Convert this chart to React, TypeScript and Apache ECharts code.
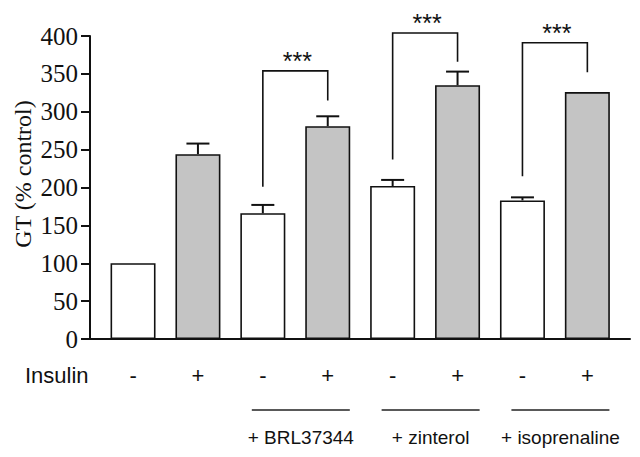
import React, { useEffect, useRef } from "react";
import * as echarts from "echarts";

// ---- data ----
const barPositions = [1, 2, 3, 4, 5, 6, 7, 8];
const insulinSigns = ["-", "+", "-", "+", "-", "+", "-", "+"];
const gtValues = [100, 244, 166, 281, 202, 335, 183, 326];
const semValues = [0, 14, 11, 13, 8, 18, 4, 0];
const treatmentLabels = ["+ BRL37344", "+ zinterol", "+ isoprenaline"];
const treatmentFrom = [3, 5, 7];
const treatmentTo = [4, 6, 8];
const bracketTops = [354, 404, 391];
const bracketLeftEnds = [201, 237, 215];
const bracketRightEnds = [315, 366, 352];
const bracketLabels = ["***", "***", "***"];

const INK = "#111";
const GREY = "#c4c4c4";

export default function App() {
  const ref = useRef<HTMLDivElement>(null);

  useEffect(() => {
    if (!ref.current) return;
    const chart = echarts.init(ref.current, null, { renderer: "svg" });

    const barData = barPositions.map((x, i) => ({
      value: [x, gtValues[i]],
      itemStyle: {
        color: insulinSigns[i] === "+" ? GREY : "#ffffff",
        borderColor: INK,
        borderWidth: 1.6,
      },
    }));

    const errData = barPositions.map((x, i) => [x, gtValues[i], semValues[i]]);
    const signData = barPositions.map((x, i) => [x, i]);
    const treatData = treatmentFrom.map((f, i) => [f, treatmentTo[i], i]);
    const bracketData = treatmentFrom.map((f, i) => [
      f,
      treatmentTo[i],
      bracketTops[i],
      bracketLeftEnds[i],
      bracketRightEnds[i],
      i,
    ]);

    const option: any = {
      animation: false,
      backgroundColor: "#ffffff",
      grid: { left: 90, right: 10, top: 36, bottom: 118, containLabel: false },
      xAxis: {
        type: "value",
        min: 0.337,
        max: 8.657,
        axisLine: { show: true, onZero: false, lineStyle: { color: INK, width: 2 } },
        axisTick: { show: false },
        axisLabel: { show: false },
        splitLine: { show: false },
      },
      yAxis: {
        type: "value",
        min: 0,
        max: 400,
        interval: 50,
        axisLine: { show: true, lineStyle: { color: INK, width: 2 } },
        axisTick: { show: true, length: 9, lineStyle: { color: INK, width: 2 } },
        axisLabel: {
          margin: 12,
          color: INK,
          fontFamily: "Liberation Serif",
          fontSize: 25,
        },
        splitLine: { show: false },
      },
      graphic: [
        {
          type: "text",
          x: 23,
          y: 174,
          rotation: Math.PI / 2,
          style: {
            text: "GT (% control)",
            fill: INK,
            fontFamily: "Liberation Serif",
            fontSize: 24,
            align: "center",
            verticalAlign: "middle",
          },
        },
        {
          type: "text",
          x: 25,
          y: 375,
          style: {
            text: "Insulin",
            fill: INK,
            fontFamily: "Liberation Sans",
            fontSize: 22,
            align: "left",
            verticalAlign: "middle",
          },
        },
      ],
      series: [
        {
          type: "bar",
          data: barData,
          barWidth: 45,
          z: 2,
        },
        {
          type: "custom",
          z: 3,
          clip: false,
          data: errData,
          renderItem: (params: any, api: any) => {
            const x = api.value(0);
            const v = api.value(1);
            const e = api.value(2);
            if (!e) return { type: "group", children: [] };
            const p0 = api.coord([x, v]);
            const p1 = api.coord([x, v + e]);
            const st = { stroke: INK, lineWidth: 2, fill: null };
            return {
              type: "group",
              children: [
                { type: "line", shape: { x1: p0[0], y1: p0[1], x2: p1[0], y2: p1[1] }, style: st },
                { type: "line", shape: { x1: p1[0] - 11.5, y1: p1[1], x2: p1[0] + 11.5, y2: p1[1] }, style: st },
              ],
            };
          },
        },
        {
          type: "custom",
          z: 3,
          clip: false,
          data: bracketData,
          renderItem: (params: any, api: any) => {
            const f = api.value(0);
            const t = api.value(1);
            const top = api.value(2);
            const le = api.value(3);
            const re = api.value(4);
            const pTL = api.coord([f, top]);
            const pL = api.coord([f, le]);
            const pTR = api.coord([t, top]);
            const pR = api.coord([t, re]);
            return {
              type: "group",
              children: [
                {
                  type: "polyline",
                  shape: { points: [[pL[0], pL[1]], [pTL[0], pTL[1]], [pTR[0], pTR[1]], [pR[0], pR[1]]] },
                  style: { stroke: INK, lineWidth: 1.6, fill: null },
                },
                {
                  type: "text",
                  x: (pTL[0] + pTR[0]) / 2 + 2,
                  y: pTL[1] - 10,
                  style: {
                    text: bracketLabels[params.dataIndex],
                    fill: INK,
                    fontFamily: "Liberation Sans",
                    fontSize: 25,
                    align: "center",
                    verticalAlign: "middle",
                  },
                },
              ],
            };
          },
        },
        {
          type: "custom",
          z: 3,
          clip: false,
          data: signData,
          renderItem: (params: any, api: any) => {
            const p = api.coord([api.value(0), 0]);
            return {
              type: "text",
              x: p[0],
              y: p[1] + 36,
              style: {
                text: insulinSigns[params.dataIndex],
                fill: INK,
                fontFamily: "Liberation Sans",
                fontSize: 22,
                align: "center",
                verticalAlign: "middle",
              },
            };
          },
        },
        {
          type: "custom",
          z: 3,
          clip: false,
          data: treatData,
          renderItem: (params: any, api: any) => {
            const pL = api.coord([api.value(0) - 0.17, 0]);
            const pR = api.coord([api.value(1) + 0.34, 0]);
            const cx = (pL[0] + pR[0]) / 2;
            return {
              type: "group",
              children: [
                {
                  type: "line",
                  shape: { x1: pL[0], y1: pL[1] + 71, x2: pR[0], y2: pL[1] + 71 },
                  style: { stroke: "#222", lineWidth: 1.6 },
                },
                {
                  type: "text",
                  x: cx,
                  y: pL[1] + 98,
                  style: {
                    text: treatmentLabels[params.dataIndex],
                    fill: INK,
                    fontFamily: "Liberation Sans",
                    fontSize: 19,
                    align: "center",
                    verticalAlign: "middle",
                  },
                },
              ],
            };
          },
        },
      ],
    };

    chart.setOption(option);
    return () => chart.dispose();
  }, []);

  return (
    <div
      ref={ref}
      style={{ position: "fixed", left: 0, top: 0, width: 640, height: 457, background: "#fff" }}
    />
  );
}
